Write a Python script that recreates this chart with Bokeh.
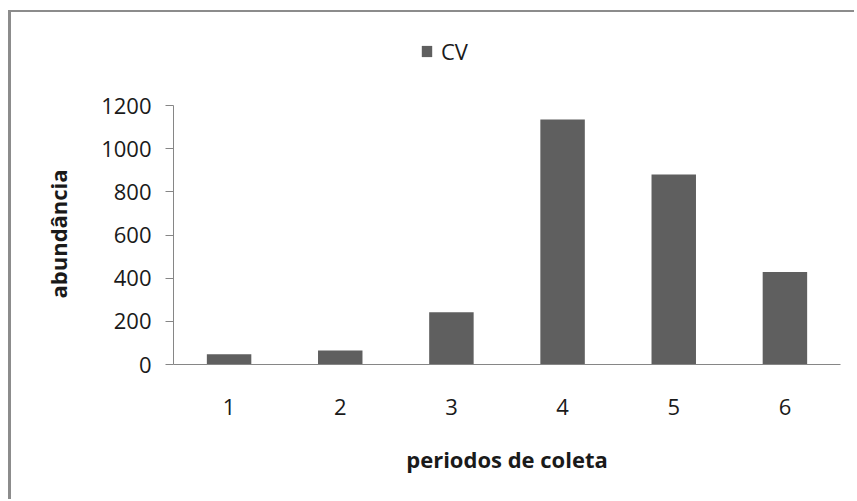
from bokeh.plotting import figure
from bokeh.models import Range1d, FactorRange, Legend, LegendItem, ColumnDataSource, FixedTicker, Title
from bokeh.embed import file_html
from bokeh.resources import INLINE

periods = ["1", "2", "3", "4", "5", "6"]
cv = [48, 65, 242, 1135, 880, 428]
y_ticks = [0, 200, 400, 600, 800, 1000, 1200]
series_name = "CV"
x_title = "periodos de coleta"
y_title = "abundância"

FONT = "Open Sans"
TEXT = "#1a1a1a"
AXIS = "#868686"
BAR = "#5f5f5f"

# frame: 259 px for 0..1200, extended upward by 75 px to host the legend
Y_MAX = y_ticks[-1]
FRAME_H = 334
Y_END = Y_MAX * FRAME_H / 259.0

src = ColumnDataSource(dict(x=periods, y=cv))

p = figure(width=846, height=489,
           x_range=FactorRange(*periods, range_padding=0),
           y_range=Range1d(0, Y_END),
           output_backend="svg", toolbar_location=None,
           min_border_left=162, min_border_right=17,
           min_border_top=18, min_border_bottom=137)
p.styles = {"margin-left": "8px", "margin-top": "10px",
            "border-left": "3px solid #8c8c8c", "border-top": "2px solid #8c8c8c"}

r = p.vbar(x="x", top="y", width=0.4, source=src, fill_color=BAR, line_color=None)

p.grid.visible = False
p.outline_line_color = None

p.yaxis.ticker = FixedTicker(ticks=y_ticks)
p.yaxis.bounds = (0, Y_MAX)
p.yaxis.axis_line_color = AXIS
p.yaxis.major_tick_line_color = AXIS
p.yaxis.major_tick_out = 8
p.yaxis.major_tick_in = 0
p.yaxis.minor_tick_line_color = None
p.yaxis.major_label_text_font = FONT
p.yaxis.major_label_text_font_size = "22px"
p.yaxis.major_label_text_color = TEXT
p.yaxis.major_label_standoff = 14

ytitle = Title(text=y_title, align="left", offset=66,
               text_font=FONT, text_font_size="22px", text_font_style="bold",
               text_color=TEXT, standoff=52)
p.add_layout(ytitle, "left")

p.xaxis.axis_line_color = AXIS
p.xaxis.major_tick_line_color = None
p.xaxis.minor_tick_line_color = None
p.xaxis.major_label_text_font = FONT
p.xaxis.major_label_text_font_size = "22px"
p.xaxis.major_label_text_color = TEXT
p.xaxis.major_label_standoff = 28
p.xaxis.axis_label = x_title
p.xaxis.axis_label_text_font = FONT
p.xaxis.axis_label_text_font_size = "22px"
p.xaxis.axis_label_text_font_style = "bold"
p.xaxis.axis_label_text_color = TEXT
p.xaxis.axis_label_standoff = 26

legend = Legend(items=[LegendItem(label=series_name, renderers=[r])],
                location=(247, 298), orientation="horizontal",
                border_line_color=None, background_fill_alpha=0,
                padding=0, margin=0, glyph_width=13, glyph_height=14,
                label_standoff=8, label_text_font=FONT,
                label_text_font_size="22px", label_text_color=TEXT)
p.add_layout(legend)

open("out.html", "w").write(file_html(p, INLINE))
